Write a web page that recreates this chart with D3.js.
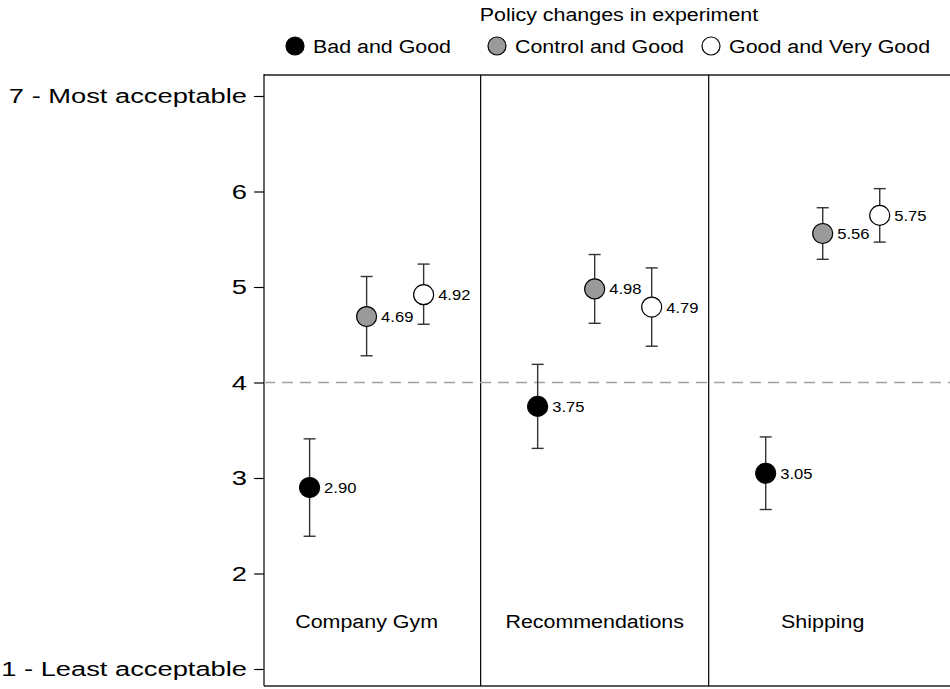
<!DOCTYPE html>
<html>
<head>
<meta charset="utf-8">
<script src="https://cdn.jsdelivr.net/npm/d3@7"></script>
<style>
  html, body { margin: 0; padding: 0; background: #fff; }
  svg { display: block; font-family: "Liberation Sans", Arial, sans-serif; }
</style>
</head>
<body>
<svg id="chart" width="950" height="689"></svg>
<script>
// Policy acceptability by domain and by which pair of policies was compared
const categories = ["Company Gym", "Recommendations", "Shipping"];
const seriesNames = ["Bad and Good", "Control and Good", "Good and Very Good"];
const seriesFill = ["#000000", "#9a9a9a", "#ffffff"];

// mean rating per category, one array per series
const meanBadGood      = [2.90, 3.75, 3.05];
const meanControlGood  = [4.69, 4.98, 5.56];
const meanGoodVeryGood = [4.92, 4.79, 5.75];

// 95% interval bounds, one array per series
const lowBadGood       = [2.39, 3.31, 2.67];
const highBadGood      = [3.41, 4.19, 3.43];
const lowControlGood   = [4.28, 4.62, 5.29];
const highControlGood  = [5.11, 5.34, 5.83];
const lowGoodVeryGood  = [4.61, 4.38, 5.47];
const highGoodVeryGood = [5.24, 5.20, 6.03];

const yTickValues = [1, 2, 3, 4, 5, 6, 7];
const yTickLabels = ["1 - Least acceptable", "2", "3", "4", "5", "6", "7 - Most acceptable"];
const legendTitle = "Policy changes in experiment";
const midpoint = 4;

const means = [meanBadGood, meanControlGood, meanGoodVeryGood];
const lows = [lowBadGood, lowControlGood, lowGoodVeryGood];
const highs = [highBadGood, highControlGood, highGoodVeryGood];

const rows = [];
categories.forEach((cat, ci) => {
  seriesNames.forEach((s, si) => {
    rows.push({ cat, ci, si, mean: means[si][ci], lo: lows[si][ci], hi: highs[si][ci] });
  });
});

const svg = d3.select("#chart");
const plotLeft = 264, plotRight = 951, plotTop = 75, plotBottom = 686;

// the type face is set slightly wide, so text is drawn with a horizontal stretch
const wideText = (sel, sx) => sel.each(function () {
  const t = d3.select(this);
  const tx = +t.attr("x") || 0, ty = +t.attr("y") || 0;
  t.attr("x", 0).attr("y", 0).attr("transform", `translate(${tx},${ty}) scale(${sx},1)`);
});

// each category gets three slots, with one empty slot as spacing between groups
const slot = (ci, si) => ci * 4 + 1 + si;
const x = d3.scaleLinear().domain([0.2, 12.25]).range([plotLeft, plotRight]);
const y = d3.scaleLinear().domain([1, 7]).range([669, 96]);

// frame
svg.append("line").attr("x1", plotLeft).attr("x2", 950).attr("y1", plotTop).attr("y2", plotTop)
  .attr("stroke", "#555").attr("stroke-width", 2);
svg.append("line").attr("x1", plotLeft).attr("x2", 950).attr("y1", plotBottom).attr("y2", plotBottom)
  .attr("stroke", "#222").attr("stroke-width", 1.5);
svg.append("line").attr("x1", plotLeft).attr("x2", plotLeft).attr("y1", plotTop - 1).attr("y2", plotBottom)
  .attr("stroke", "#000").attr("stroke-width", 1.2);

// dividers between categories
[4, 8].forEach(p => {
  svg.append("line").attr("x1", x(p)).attr("x2", x(p)).attr("y1", plotTop).attr("y2", plotBottom)
    .attr("stroke", "#000").attr("stroke-width", 1.2);
});

// reference line at the scale midpoint
svg.append("line").attr("x1", plotLeft).attr("x2", 950)
  .attr("y1", y(midpoint)).attr("y2", y(midpoint))
  .attr("stroke", "#a0a0a0").attr("stroke-width", 1.5)
  .attr("stroke-dasharray", "11,7");

// y axis
const yAxis = d3.axisLeft(y).tickValues(yTickValues)
  .tickFormat((d, i) => yTickLabels[i]).tickSize(10).tickPadding(7);
const ga = svg.append("g").attr("transform", `translate(${plotLeft},0)`).call(yAxis);
ga.select(".domain").remove();
ga.selectAll(".tick line").attr("stroke", "#000").attr("stroke-width", 1.2);
ga.selectAll(".tick text").attr("fill", "#000")
  .style("font-size", "21px").style("font-family", "Liberation Sans, Arial, sans-serif")
  .call(wideText, 1.3);

// category labels
svg.selectAll(".catlabel").data(categories).join("text")
  .attr("class", "catlabel")
  .attr("x", (d, i) => x(slot(i, 1)))
  .attr("y", 628)
  .attr("text-anchor", "middle")
  .style("font-size", "18px")
  .text(d => d)
  .call(wideText, 1.19);

// error bars
const capW = 6;
const eb = svg.append("g").selectAll("g").data(rows).join("g");
eb.append("line")
  .attr("x1", d => x(slot(d.ci, d.si))).attr("x2", d => x(slot(d.ci, d.si)))
  .attr("y1", d => y(d.lo)).attr("y2", d => y(d.hi))
  .attr("stroke", "#333").attr("stroke-width", 1.4);
eb.append("line")
  .attr("x1", d => x(slot(d.ci, d.si)) - capW).attr("x2", d => x(slot(d.ci, d.si)) + capW)
  .attr("y1", d => y(d.hi)).attr("y2", d => y(d.hi))
  .attr("stroke", "#333").attr("stroke-width", 1.4);
eb.append("line")
  .attr("x1", d => x(slot(d.ci, d.si)) - capW).attr("x2", d => x(slot(d.ci, d.si)) + capW)
  .attr("y1", d => y(d.lo)).attr("y2", d => y(d.lo))
  .attr("stroke", "#333").attr("stroke-width", 1.4);

// points
svg.append("g").selectAll("circle").data(rows).join("circle")
  .attr("cx", d => x(slot(d.ci, d.si)))
  .attr("cy", d => y(d.mean))
  .attr("r", 10)
  .attr("fill", d => seriesFill[d.si])
  .attr("stroke", "#000").attr("stroke-width", 1.2);

// value labels
svg.append("g").selectAll("text").data(rows).join("text")
  .attr("x", d => x(slot(d.ci, d.si)) + 14.5)
  .attr("y", d => y(d.mean) + 5.5)
  .style("font-size", "15.5px")
  .text(d => d3.format(".2f")(d.mean))
  .call(wideText, 1.07);

// legend
svg.append("text").attr("x", 619).attr("y", 21).attr("text-anchor", "middle")
  .style("font-size", "18px").text(legendTitle)
  .call(wideText, 1.19);
const legendX = [295, 497, 711];
const lg = svg.append("g").selectAll("g").data(seriesNames).join("g")
  .attr("transform", (d, i) => `translate(${legendX[i]},46)`);
lg.append("circle").attr("r", 9).attr("fill", (d, i) => seriesFill[i])
  .attr("stroke", "#000").attr("stroke-width", 1.2);
lg.append("text").attr("x", 18).attr("y", 6.5).style("font-size", "18px").text(d => d)
  .call(wideText, 1.19);
</script>
</body>
</html>
